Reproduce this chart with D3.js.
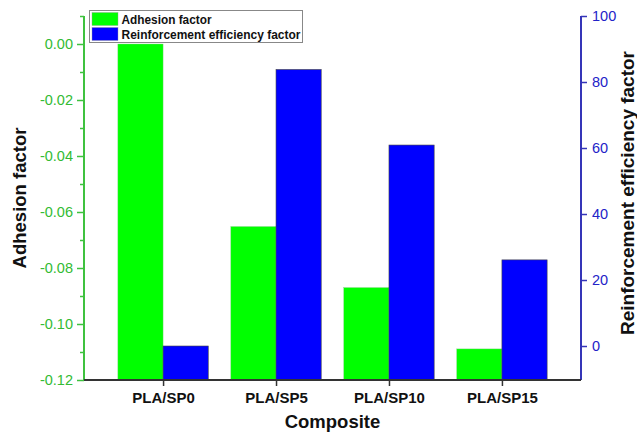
<!DOCTYPE html>
<html><head><meta charset="utf-8">
<script src="https://cdn.jsdelivr.net/npm/d3@7/dist/d3.min.js"></script>
<style>body{margin:0;background:#fff;} svg{display:block;font-family:Arial,"Liberation Sans",sans-serif;}</style>
</head><body>
<svg id="c" width="637" height="433"></svg>
<script>
const categories = ["PLA/SP0", "PLA/SP5", "PLA/SP10", "PLA/SP15"];
const adhesion = [0.0, -0.0652, -0.0870, -0.1089];
const reinforcement = [0.0, 83.8, 60.9, 26.1];
const leftTicks = [0.00, -0.02, -0.04, -0.06, -0.08, -0.10, -0.12];
const leftMinor = [0.01, -0.01, -0.03, -0.05, -0.07, -0.09, -0.11];
const rightTicks = [0, 20, 40, 60, 80, 100];
const seriesNames = ["Adhesion factor", "Reinforcement efficiency factor"];

const svg = d3.select("#c");
const L = 84, R = 581, T = 16, B = 380;
const x = d3.scaleLinear().domain([0.3, 4.7]).range([L, R]);
const yL = d3.scaleLinear().domain([-0.12, 0.01]).range([B, T]);
const yR = d3.scaleLinear().domain([-10.3, 100]).range([B, T]);
const bw = 0.4;
const gCol = "#00ff00", bCol = "#0000ff";
const gAxis = "#3fc23f", gText = "#33bb33", bAxis = "#3535b8", bText = "#2323c8";

// bars
svg.append("g").selectAll("rect").data(adhesion).join("rect")
  .attr("x", (d, i) => x(i + 1 - bw))
  .attr("width", (d, i) => x(i + 1) - x(i + 1 - bw))
  .attr("y", d => yL(d))
  .attr("height", d => B - yL(d))
  .attr("fill", gCol).attr("stroke", "#7fd07f").attr("stroke-width", 0.4);
svg.append("g").selectAll("rect").data(reinforcement).join("rect")
  .attr("x", (d, i) => x(i + 1))
  .attr("width", (d, i) => x(i + 1 + bw) - x(i + 1))
  .attr("y", d => yR(d))
  .attr("height", d => B - yR(d))
  .attr("fill", bCol).attr("stroke", "#444").attr("stroke-width", 0.6);

// left axis
const la = svg.append("g").attr("transform", `translate(${L},0)`)
  .call(d3.axisLeft(yL).tickValues(leftTicks).tickSize(7).tickPadding(4));
la.selectAll(".domain").attr("stroke", gAxis).attr("stroke-width", 2).attr("d", `M0,${T}V${B}`);
la.selectAll(".tick line").attr("stroke", gAxis).attr("stroke-width", 1.5);
la.selectAll(".tick text").attr("fill", gText).attr("font-size", "14.5px")
  .text(d => d3.format(".2f")(d).replace("\u2212", "-"));
const lm = svg.append("g").attr("transform", `translate(${L},0)`)
  .call(d3.axisLeft(yL).tickValues(leftMinor).tickFormat("").tickSize(4));
lm.select(".domain").remove();
lm.selectAll(".tick line").attr("stroke", gAxis).attr("stroke-width", 1.5);

// right axis
const ra = svg.append("g").attr("transform", `translate(${R},0)`)
  .call(d3.axisRight(yR).tickValues(rightTicks).tickSize(6).tickPadding(5));
ra.selectAll(".domain").attr("stroke", bAxis).attr("stroke-width", 2).attr("d", `M0,${T}V${B}`);
ra.selectAll(".tick line").attr("stroke", bAxis).attr("stroke-width", 1.5);
ra.selectAll(".tick text").attr("fill", bText).attr("font-size", "14.5px");

// bottom axis
const ba = svg.append("g").attr("transform", `translate(0,${B})`)
  .call(d3.axisBottom(x).tickValues([1, 2, 3, 4]).tickFormat((d, i) => categories[i]).tickSize(6).tickPadding(6));
ba.selectAll(".domain").attr("stroke", "#333").attr("stroke-width", 1.8).attr("d", `M${L},0H${R}`);
ba.selectAll(".tick line").attr("stroke", "#333").attr("stroke-width", 1.5);
ba.selectAll(".tick text").attr("fill", "#111").attr("font-size", "15px").attr("font-weight", "bold");

// titles
svg.append("text").attr("x", (L + R) / 2).attr("y", 428).attr("text-anchor", "middle")
  .attr("font-size", "18.5px").attr("font-weight", "bold").attr("fill", "#111").text("Composite");
svg.append("text").attr("transform", "translate(26,198) rotate(-90)").attr("text-anchor", "middle")
  .attr("font-size", "18.5px").attr("font-weight", "bold").attr("fill", "#111").text("Adhesion factor");
svg.append("text").attr("transform", "translate(634,193) rotate(-90)").attr("text-anchor", "middle")
  .attr("font-size", "19px").attr("font-weight", "bold").attr("fill", "#111").text("Reinforcement efficiency factor");

// legend
const lg = svg.append("g");
lg.append("rect").attr("x", 89.5).attr("y", 10.5).attr("width", 213).attr("height", 32)
  .attr("fill", "#fff").attr("stroke", "#888").attr("stroke-width", 1);
const cols = [gCol, bCol];
seriesNames.forEach((n, i) => {
  lg.append("rect").attr("x", 92).attr("y", 12.5 + i * 15).attr("width", 26).attr("height", 13)
    .attr("fill", cols[i]).attr("stroke", "#999").attr("stroke-width", 0.4);
  lg.append("text").attr("x", 121.5).attr("y", 23.5 + i * 15).attr("font-size", "12px")
    .attr("font-weight", "bold").attr("fill", "#111").attr("textLength", i === 0 ? 90 : 179)
    .attr("lengthAdjust", "spacingAndGlyphs").text(n);
});
</script>
</body></html>
